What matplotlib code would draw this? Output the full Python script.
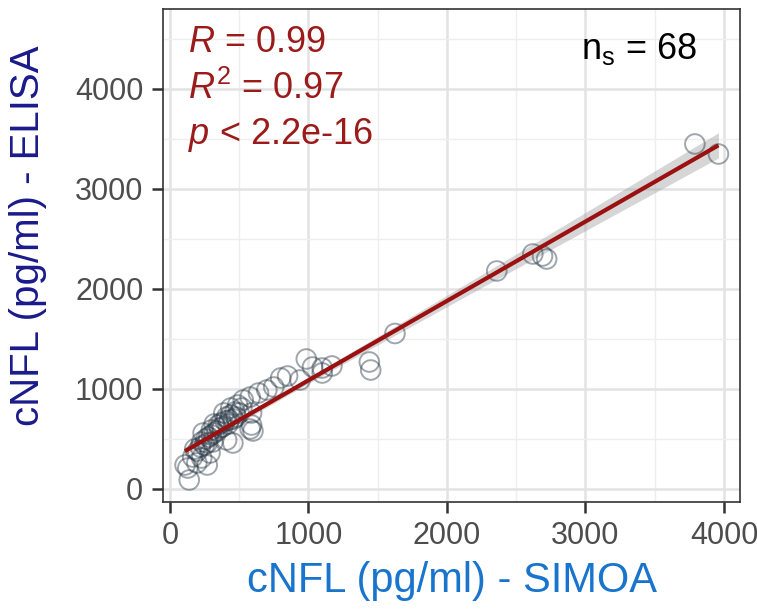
import numpy as np
import matplotlib
matplotlib.use("Agg")
import matplotlib.pyplot as plt
from matplotlib.ticker import MultipleLocator

plt.rcParams['font.family'] = ['Liberation Sans', 'DejaVu Sans']
plt.rcParams['mathtext.fontset'] = 'custom'
plt.rcParams['mathtext.rm'] = 'Liberation Sans'
plt.rcParams['mathtext.it'] = 'Liberation Sans:italic'

# cNFL concentrations (pg/ml) per sample: SIMOA vs ELISA
simoa = [3790, 3960, 2620, 2690, 2720, 2360, 1625, 1440, 1450, 985,
         1030, 1100, 1170, 1100, 850, 800, 940, 750, 700, 640,
         580, 530, 490, 440, 390, 580, 600, 590, 140, 130,
         110, 195, 270, 230, 165, 290, 270, 310, 240, 300,
         360, 410, 455, 430, 480, 520, 590, 200, 220, 250,
         260, 280, 300, 320, 340, 350, 370, 380, 400, 410,
         420, 440, 460, 470, 500, 230, 180, 320]
elisa = [3450, 3350, 2350, 2330, 2300, 2180, 1555, 1270, 1190, 1300,
         1220, 1210, 1230, 1160, 1130, 1110, 1090, 1020, 990, 960,
         920, 890, 840, 810, 760, 600, 580, 640, 90, 210,
         240, 260, 240, 310, 320, 360, 460, 470, 560, 590,
         610, 490, 460, 690, 720, 810, 760, 380, 420, 440,
         500, 520, 540, 560, 580, 640, 660, 620, 680, 720,
         650, 740, 700, 770, 760, 470, 400, 650]

x_ticks = [0, 1000, 2000, 3000, 4000]
y_ticks = [0, 1000, 2000, 3000, 4000]

stat_lines = [r"$\mathit{R}$ = 0.99", r"$\mathit{R}^2$ = 0.97", r"$\mathit{p}$ < 2.2e-16"]
n_label = r"n$_\mathregular{s}$ = 68"

x = np.array(simoa, dtype=float)
y = np.array(elisa, dtype=float)

fig = plt.figure(figsize=(7.57, 6.11), dpi=100)
ax = fig.add_axes([0.215, 0.1784, 0.763, 0.8069])

# linear fit with 95% confidence band
slope, intercept = np.polyfit(x, y, 1)
xs = np.linspace(x.min(), x.max(), 200)
ys = intercept + slope * xs
n = len(x)
resid = y - (intercept + slope * x)
s = np.sqrt(np.sum(resid ** 2) / (n - 2))
se = s * np.sqrt(1 / n + (xs - x.mean()) ** 2 / np.sum((x - x.mean()) ** 2))
tval = 1.997
ax.fill_between(xs, ys - tval * se, ys + tval * se, color='#999999', alpha=0.4,
                linewidth=0, zorder=2)

ax.scatter(x, y, s=200, facecolors='none', edgecolors='#2B3A48', linewidths=1.4,
           alpha=0.45, zorder=3)
ax.plot(xs, ys, color='#9B1010', linewidth=3, zorder=4, solid_capstyle='butt')

ax.set_xlim(-51, 4118)
ax.set_ylim(-130, 4800)
ax.set_xticks(x_ticks)
ax.set_yticks(y_ticks)
ax.xaxis.set_minor_locator(MultipleLocator(500))
ax.yaxis.set_minor_locator(MultipleLocator(500))
ax.grid(which='major', color='#E3E3E3', linewidth=1.8, zorder=0)
ax.grid(which='minor', color='#EEEEEE', linewidth=1.0, zorder=0)
ax.set_axisbelow(True)
for sp in ax.spines.values():
    sp.set_color('#333333')
    sp.set_linewidth(1.2)
ax.tick_params(which='major', length=8, width=1.8, color='#333333',
               labelsize=22, labelcolor='#4D4D4D', pad=6)
ax.tick_params(which='minor', length=0)

ax.set_xlabel("cNFL (pg/ml) - SIMOA", fontsize=30, color='#1874CD', labelpad=7)
ax.set_ylabel("cNFL (pg/ml) - ELISA", fontsize=29, color='#1A1A8C')
ax.yaxis.set_label_coords(-0.2, 0.54)

for i, t in enumerate(stat_lines):
    ax.text(0.043, 0.932 - i * 0.094, t, transform=ax.transAxes, fontsize=26,
            color='#9B1B1B', ha='left', va='center')
ax.text(0.925, 0.918, n_label, transform=ax.transAxes, fontsize=26,
        color='black', ha='right', va='center')

fig.savefig("out.png", dpi=100)
